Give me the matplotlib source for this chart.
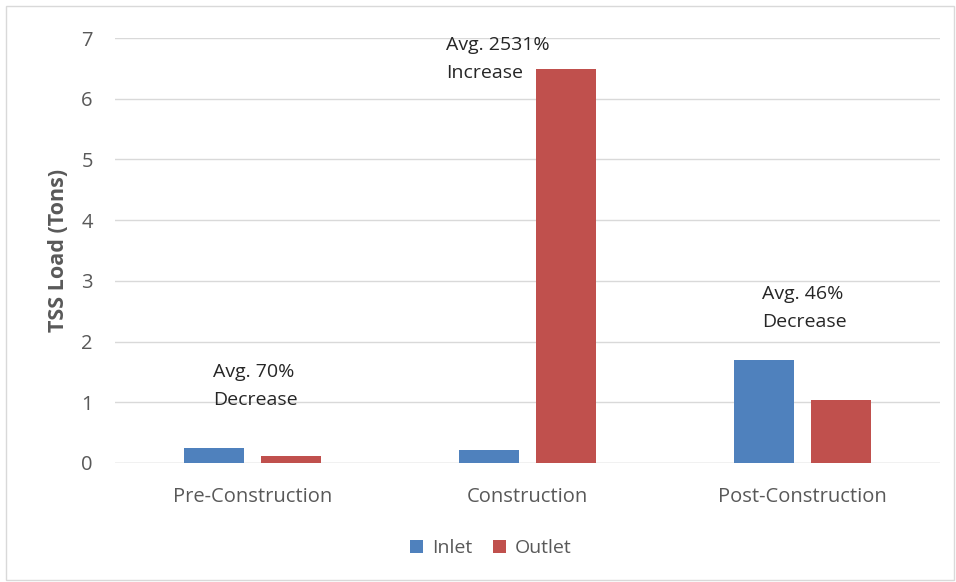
import matplotlib
matplotlib.use("Agg")
import matplotlib.pyplot as plt
import numpy as np
from matplotlib.patches import Rectangle

categories = ["Pre-Construction", "Construction", "Post-Construction"]
inlet = [0.24, 0.21, 1.70]
outlet = [0.115, 6.49, 1.04]
annotations = ["Avg. 70%\nDecrease", "Avg. 2531%\nIncrease", "Avg. 46%\nDecrease"]
annot_x = [-0.144, 0.704, 1.853]
annot_y = [1.647, 7.03, 2.93]

plt.rcParams['font.family'] = ['Open Sans', 'DejaVu Sans']

fig = plt.figure(figsize=(9.56, 5.82), dpi=100)
ax = fig.add_axes([115/956, 1-463/582, 825/956, 425/582])

x = np.arange(len(categories))
w = 0.22
ax.bar(x - 0.14, inlet, w, color="#4F81BD", label="Inlet", zorder=3)
ax.bar(x + 0.14, outlet, w, color="#C0504D", label="Outlet", zorder=3)

ax.set_xlim(-0.5, 2.5)
ax.set_ylim(0, 7)
ax.set_yticks(range(0, 8))
ax.set_xticks(x)
ax.set_xticklabels(categories)
ax.tick_params(axis='both', length=0, labelsize=14.5, colors="#595959")
ax.tick_params(axis='y', pad=16)
ax.tick_params(axis='x', pad=17)
ax.grid(axis='y', color="#D9D9D9", linewidth=1, zorder=0)
for s in ax.spines.values():
    s.set_visible(False)
ax.axhline(0, color="#D9D9D9", linewidth=1, zorder=1)

ax.set_ylabel("TSS Load (Tons)", fontsize=15.5, fontweight='bold', color="#595959", labelpad=9)

for tx, ty, t in zip(annot_x, annot_y, annotations):
    ax.text(tx, ty, t, ha='left', va='top', fontsize=14, color="#262626", linespacing=1.72)

leg = fig.legend(loc='center', bbox_to_anchor=(491/956, 1-548/582), ncol=2, frameon=False,
                 fontsize=14, handlelength=0.65, handleheight=0.65, handletextpad=0.45,
                 columnspacing=1.1)
for t in leg.get_texts():
    t.set_color("#595959")

fig.patches.append(Rectangle((6/956, 2/582), 948/956, 574/582, transform=fig.transFigure,
                             fill=False, edgecolor="#D9D9D9", linewidth=1))

fig.savefig("out.png", dpi=100, facecolor="white")
